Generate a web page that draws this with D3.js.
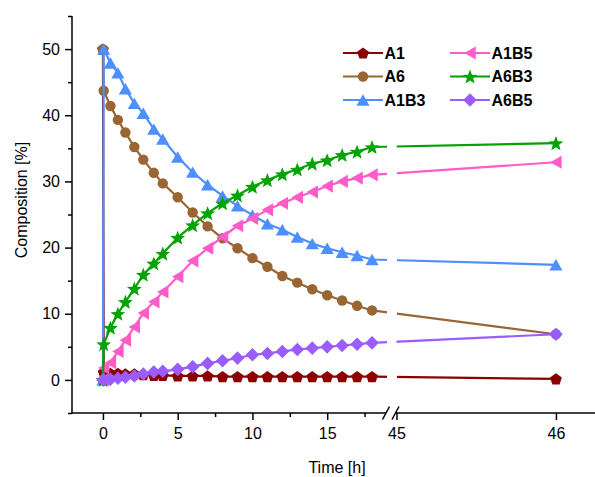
<!DOCTYPE html>
<html><head><meta charset="utf-8">
<script src="https://cdn.jsdelivr.net/npm/d3@7"></script>
<style>body{margin:0;background:#fff} svg{display:block} text{font-family:Arial,"Liberation Sans",sans-serif}</style>
</head><body><svg id="c" width="595" height="477"></svg>
<script>
const times = [0, 0.05, 0.5, 1, 1.5, 2.1, 2.7, 3.4, 4, 5, 6, 7, 8, 9, 10, 11, 12, 13, 14, 15, 16, 17, 18, 46];
const A1   = [50, 1.2, 1.0, 1.0, 0.9, 0.9, 0.8, 0.7, 0.7, 0.6, 0.6, 0.6, 0.5, 0.5, 0.5, 0.5, 0.5, 0.5, 0.5, 0.5, 0.5, 0.5, 0.5, 0.15];
const A6   = [50, 43.7, 41.4, 39.3, 37.4, 35.2, 33.3, 31.3, 29.7, 27.6, 25.3, 23.2, 21.4, 19.9, 18.4, 17.1, 15.7, 14.7, 13.7, 12.8, 12.0, 11.2, 10.5, 6.9];
const A1B3 = [0, 50, 47.9, 46.4, 44.0, 41.8, 40.3, 37.9, 36.4, 33.7, 31.4, 29.5, 27.8, 26.3, 24.9, 23.6, 22.7, 21.6, 20.6, 19.9, 19.3, 18.8, 18.2, 17.4];
const A1B5 = [0, 1.8, 2.6, 4.3, 6.0, 8.0, 10.1, 11.8, 13.3, 15.6, 18.0, 19.9, 21.6, 23.3, 24.4, 25.7, 26.7, 27.6, 28.4, 29.3, 30.0, 30.5, 31.0, 32.9];
const A6B3 = [0, 5.4, 7.9, 10.0, 11.8, 13.8, 15.9, 17.6, 19.1, 21.5, 23.4, 25.2, 26.7, 27.9, 29.2, 30.2, 31.1, 31.8, 32.7, 33.2, 34.0, 34.5, 35.2, 35.8];
const A6B5 = [0, 0, 0.1, 0.25, 0.4, 0.6, 0.9, 1.2, 1.3, 1.6, 2.0, 2.5, 2.9, 3.3, 3.8, 4.0, 4.3, 4.6, 4.8, 5.0, 5.2, 5.4, 5.6, 6.9];
const seriesNames = ["A1", "A6", "A1B3", "A1B5", "A6B3", "A6B5"];
const xMajorTicks = [0, 5, 10, 15, 45, 46];
const xMinorTicks = [2.5, 7.5, 12.5, 17.5];
const yMajorTicks = [0, 10, 20, 30, 40, 50];
const yMinorTicks = [-5, 5, 15, 25, 35, 45, 55];

const colors = {A1:"#8b0000", A6:"#996633", A1B3:"#4d8ffe", A1B5:"#ff5bc9", A6B3:"#00a300", A6B5:"#9a5cff"};

// custom symbol shapes
const symTriUp = {draw(c){const w=6.6,h=5.7;c.moveTo(0,-h);c.lineTo(w,h);c.lineTo(-w,h);c.closePath();}};
const symTriLeft = {draw(c){const w=6.6,h=5.7;c.moveTo(-h,0);c.lineTo(h,-w);c.lineTo(h,w);c.closePath();}};
const symDiamond = {draw(c){const r=6.8;c.moveTo(0,-r);c.lineTo(r,0);c.lineTo(0,r);c.lineTo(-r,0);c.closePath();}};
const symPent = {draw(c){const R=6.2;for(let i=0;i<5;i++){const a=-Math.PI/2+i*2*Math.PI/5;const px=R*Math.cos(a),py=R*Math.sin(a)+0.6;i?c.lineTo(px,py):c.moveTo(px,py);}c.closePath();}};
const symStar = {draw(c){const R=7.8,r=3.3;for(let i=0;i<10;i++){const a=-Math.PI/2+i*Math.PI/5;const rr=i%2?r:R;const px=rr*Math.cos(a),py=rr*Math.sin(a)+0.8;i?c.lineTo(px,py):c.moveTo(px,py);}c.closePath();}};
const symCirc = {draw(c){c.moveTo(5.2,0);c.arc(0,0,5.2,0,2*Math.PI);}};
const shapes = {A1:symPent, A6:symCirc, A1B3:symTriUp, A1B5:symTriLeft, A6B3:symStar, A6B5:symDiamond};
const values = {A1, A6, A1B3, A1B5, A6B3, A6B5};

const svg = d3.select("#c");
const x = d3.scaleLinear().domain([-2.07, 19, 45, 46.245]).range([72, 387, 396.5, 595]);
const y = d3.scaleLinear().domain([-5, 55]).range([413, 16]);

const plot = svg.append("g");
const line = d3.line().x(d => x(d.t)).y(d => y(d.v));
seriesNames.forEach(name => {
  const data = times.map((t, i) => ({t, v: values[name][i]}));
  const g = plot.append("g");
  g.append("path").datum(data).attr("d", line).attr("fill", "none")
    .attr("stroke", colors[name]).attr("stroke-width", 2.2).attr("stroke-linejoin", "round");
  // break gap
  g.append("rect").attr("x", 387).attr("y", 16).attr("width", 9.5).attr("height", 396).attr("fill", "#fff");
  g.selectAll("path.m").data(data).enter().append("path").attr("class", "m")
    .attr("d", d3.symbol().type(shapes[name]))
    .attr("transform", d => `translate(${x(d.t)},${y(d.v)})`)
    .attr("fill", colors[name]);
});

// axes
const axG = svg.append("g").attr("stroke", "#000").attr("stroke-width", 1.5);
axG.append("line").attr("x1", 72).attr("x2", 72).attr("y1", 16).attr("y2", 413.75);
axG.append("line").attr("x1", 71.25).attr("x2", 386).attr("y1", 413).attr("y2", 413);
axG.append("line").attr("x1", 396).attr("x2", 595).attr("y1", 413).attr("y2", 413);
axG.append("line").attr("x1", 382.5).attr("x2", 389.5).attr("y1", 419.5).attr("y2", 406.5);
axG.append("line").attr("x1", 392).attr("x2", 399).attr("y1", 419.5).attr("y2", 406.5);

function styleAxis(g){
  g.select(".domain").remove();
  g.selectAll("line").attr("stroke", "#000").attr("stroke-width", 1.5);
  g.selectAll("text").attr("font-size", 16).attr("fill", "#000").attr("font-family", "Arial, 'Liberation Sans', sans-serif");
}
svg.append("g").attr("transform", "translate(72,0)")
  .call(d3.axisLeft(y).tickValues(yMajorTicks).tickSize(7).tickPadding(5).tickFormat(d3.format("d"))).call(styleAxis);
svg.append("g").attr("transform", "translate(72,0)")
  .call(d3.axisLeft(y).tickValues(yMinorTicks).tickSize(4).tickFormat("")).call(styleAxis);
svg.append("g").attr("transform", "translate(0,413)")
  .call(d3.axisBottom(x).tickValues(xMajorTicks).tickSize(7).tickPadding(8).tickFormat(d3.format("d"))).call(styleAxis);
svg.append("g").attr("transform", "translate(0,413)")
  .call(d3.axisBottom(x).tickValues(xMinorTicks).tickSize(4).tickFormat("")).call(styleAxis);

svg.append("text").attr("x", 337).attr("y", 473).attr("text-anchor", "middle").attr("font-size", 16).text("Time [h]");
svg.append("text").attr("transform", "translate(27,200) rotate(-90)").attr("text-anchor", "middle").attr("font-size", 16).text("Composition [%]");

// legend
const legPos = [[343,53],[343,76.5],[343,100],[450,53],[450,76.5],[450,100]];
seriesNames.forEach((name, i) => {
  const [lx, ly] = legPos[i];
  const g = svg.append("g").attr("transform", `translate(${lx},${ly})`);
  g.append("line").attr("x1", 0).attr("x2", 40).attr("y1", 0).attr("y2", 0).attr("stroke", colors[name]).attr("stroke-width", 2.2);
  g.append("path").attr("d", d3.symbol().type(shapes[name])).attr("transform", "translate(20,0)").attr("fill", colors[name]);
  g.append("text").attr("x", 41.5).attr("y", 0).attr("dy", "0.36em").attr("font-size", 16).attr("font-weight", "bold").text(name);
});
</script></body></html>
